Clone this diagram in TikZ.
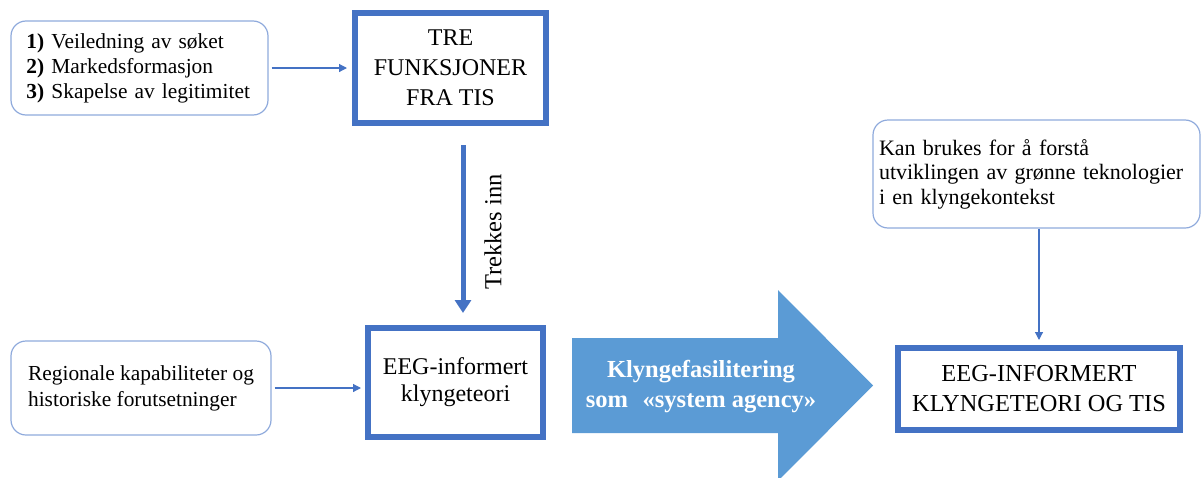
\documentclass[tikz,border=0pt]{standalone}
\usepackage{fontspec}
\setmainfont{Liberation Serif}
\usetikzlibrary{arrows.meta}
\definecolor{boxblue}{HTML}{4472C4}
\definecolor{softblue}{HTML}{8FAADC}
\definecolor{arrowfill}{HTML}{5B9BD5}
\begin{document}
\begin{tikzpicture}[x=1pt,y=-1pt,
  thickbox/.style={draw=boxblue, line width=6pt, align=center, inner sep=0pt, text=black},
  softbox/.style={draw=softblue, line width=1.2pt, rounded corners=15pt, align=left, inner ysep=0pt},
  thinarrow/.style={draw=boxblue, line width=1.2pt, -{Triangle[length=8pt,width=8pt]}},
  thickarrow/.style={draw=boxblue, line width=5pt, -{Triangle[length=13pt,width=16pt]}},
  bigarrow/.style={fill=arrowfill, draw=none},
  arrowtext/.style={text=white, align=center, font=\fontsize{24.5}{30}\selectfont\bfseries}
]
\useasboundingbox (0,0) rectangle (1203,477);

% top-left rounded box
\node[softbox, text width=226pt, inner xsep=15.5pt, minimum height=94pt,
      font=\fontsize{21.4}{25}\selectfont] (funcs) at (139.5,68)
  {\textbf{1)} Veiledning av søket\\ \textbf{2)} Markedsformasjon\\ \textbf{3)} Skapelse av legitimitet};

% TRE FUNKSJONER box
\node[thickbox, minimum width=191pt, minimum height=110pt,
      font=\fontsize{24}{30}\selectfont] (tre) at (450.5,68)
  {TRE\\FUNKSJONER\\FRA TIS};

\draw[thinarrow, shorten <=3pt, shorten >=5pt] (funcs.east) -- (tre.west);

% thick down arrow
\coordinate (dtop) at (463,145);
\coordinate (dtip) at (463,313);
\draw[thickarrow] (dtop) -- (dtip);
\node[rotate=90, font=\fontsize{24.5}{28}\selectfont] (trekk) at (493,232) {Trekkes inn};

% EEG box
\node[thickbox, minimum width=175pt, minimum height=109pt,
      font=\fontsize{24}{27}\selectfont] (eeg) at (455.5,382.5)
  {EEG-informert\\klyngeteori};

% bottom-left rounded box
\node[softbox, minimum width=260pt, minimum height=94pt,
      font=\fontsize{21.4}{26}\selectfont] (reg) at (141,388)
  {Regionale kapabiliteter og\\historiske forutsetninger};

\draw[thinarrow, shorten <=3pt, shorten >=4pt] (reg.east) -- (reg.east -| eeg.west);

% big block arrow
\path[bigarrow] (572,338) -- (778,338) -- (778,290) -- (873,385.5)
  -- (778,481) -- (778,433) -- (572,433) -- cycle;
\node[arrowtext] (agency) at (701,387)
  {Klyngefasilitering\\som\hspace{0.6em}«system agency»};

% top-right rounded box
\node[softbox, text width=315pt, inner xsep=6pt, minimum height=108pt,
      font=\fontsize{22}{24.5}\selectfont] (use) at (1036.5,174)
  {Kan brukes for å forstå\\utviklingen av grønne teknologier\\i en klyngekontekst};

% final box
\node[thickbox, minimum width=282pt, minimum height=82pt,
      font=\fontsize{24.4}{30}\selectfont] (final) at (1039,389)
  {EEG-INFORMERT\\KLYNGETEORI OG TIS};

\draw[thinarrow, shorten >=5pt] (use.south -| final.north) -- (final.north);
\end{tikzpicture}
\end{document}
